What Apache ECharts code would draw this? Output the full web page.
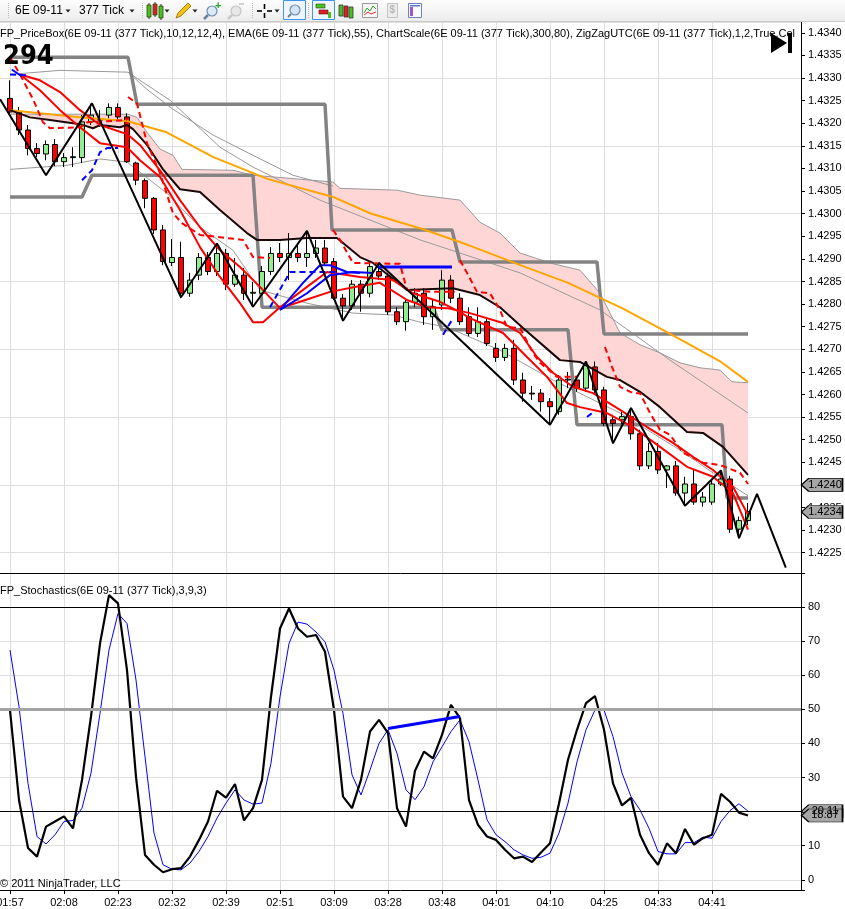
<!DOCTYPE html>
<html>
<head>
<meta charset="utf-8">
<title>6E 09-11 (377 Tick)</title>
<script src="https://cdn.jsdelivr.net/npm/echarts@6/dist/echarts.min.js"></script>
<style>
  html, body { margin: 0; padding: 0; background: #fff; }
  #chartmain { width: 845px; height: 909px; }
</style>
</head>
<body>
<div id="chartmain"></div>
<script>
// time labels, one every 6 bars
var tickLabels = ['01:57', '02:08', '02:23', '02:32', '02:39', '02:51', '03:09', '03:28', '03:48', '04:01', '04:10', '04:25', '04:33', '04:41'];

// 377 tick bars
var opens = [1.43255, 1.43225, 1.43185, 1.43144, 1.43132, 1.43153, 1.43115, 1.43124, 1.43124, 1.43203,
  1.43209, 1.43218, 1.43235, 1.43214, 1.43112, 1.43073, 1.43034, 1.42964, 1.42892, 1.42903,
  1.42824, 1.42864, 1.42903, 1.42872, 1.42912, 1.42844, 1.42864, 1.42824, 1.42824, 1.42872,
  1.42912, 1.42903, 1.42912, 1.42903, 1.42912, 1.42924, 1.42894, 1.42813, 1.42796, 1.42844,
  1.42824, 1.42872, 1.42862, 1.42783, 1.42761, 1.42804, 1.42824, 1.42772, 1.42798, 1.42853,
  1.42813, 1.42772, 1.42735, 1.42761, 1.42702, 1.42682, 1.42702, 1.42632, 1.42603, 1.42603,
  1.42584, 1.42562, 1.42632, 1.42632, 1.42614, 1.42661, 1.42610, 1.42544, 1.42544, 1.42551,
  1.42513, 1.42442, 1.42474, 1.42433, 1.42442, 1.42382, 1.42402, 1.42362, 1.42362, 1.42402,
  1.42413, 1.42302, 1.42321];
var highs = [1.43295, 1.43236, 1.43196, 1.43156, 1.43162, 1.43165, 1.43134, 1.43147, 1.43218, 1.43243,
  1.43229, 1.43244, 1.43244, 1.43222, 1.43115, 1.43078, 1.43037, 1.42975, 1.42944, 1.42938,
  1.42869, 1.42913, 1.42915, 1.42933, 1.42922, 1.42902, 1.42880, 1.42849, 1.42884, 1.42926,
  1.42935, 1.42957, 1.42935, 1.42962, 1.42942, 1.42942, 1.42902, 1.42822, 1.42853, 1.42853,
  1.42893, 1.42891, 1.42869, 1.42793, 1.42809, 1.42835, 1.42835, 1.42809, 1.42875, 1.42864,
  1.42824, 1.42793, 1.42793, 1.42767, 1.42714, 1.42712, 1.42721, 1.42648, 1.42619, 1.42612,
  1.42592, 1.42643, 1.42650, 1.42641, 1.42673, 1.42673, 1.42617, 1.42555, 1.42562, 1.42570,
  1.42522, 1.42493, 1.42493, 1.42444, 1.42453, 1.42418, 1.42433, 1.42384, 1.42411, 1.42432,
  1.42420, 1.42330, 1.42360];
var lows = [1.43218, 1.43174, 1.43129, 1.43125, 1.43118, 1.43105, 1.43103, 1.43103, 1.43112, 1.43196,
  1.43192, 1.43211, 1.43207, 1.43112, 1.43063, 1.43012, 1.42955, 1.42886, 1.42884, 1.42813,
  1.42816, 1.42853, 1.42864, 1.42862, 1.42831, 1.42838, 1.42809, 1.42796, 1.42818, 1.42864,
  1.42893, 1.42853, 1.42893, 1.42882, 1.42902, 1.42886, 1.42809, 1.42763, 1.42787, 1.42783,
  1.42815, 1.42853, 1.42776, 1.42754, 1.42741, 1.42793, 1.42754, 1.42743, 1.42787, 1.42802,
  1.42754, 1.42729, 1.42727, 1.42707, 1.42672, 1.42674, 1.42621, 1.42584, 1.42588, 1.42562,
  1.42533, 1.42555, 1.42614, 1.42606, 1.42606, 1.42603, 1.42530, 1.42492, 1.42535, 1.42500,
  1.42433, 1.42435, 1.42424, 1.42393, 1.42376, 1.42354, 1.42356, 1.42352, 1.42356, 1.42398,
  1.42294, 1.42282, 1.42311];
var closes = [1.43225, 1.43185, 1.43144, 1.43133, 1.43153, 1.43115, 1.43124, 1.43126, 1.43203, 1.43218,
  1.43207, 1.43235, 1.43214, 1.43115, 1.43074, 1.43034, 1.42964, 1.42894, 1.42903, 1.42824,
  1.42853, 1.42903, 1.42872, 1.42912, 1.42844, 1.42864, 1.42824, 1.42826, 1.42872, 1.42912,
  1.42903, 1.42912, 1.42903, 1.42912, 1.42924, 1.42891, 1.42813, 1.42796, 1.42844, 1.42824,
  1.42883, 1.42862, 1.42783, 1.42761, 1.42804, 1.42824, 1.42772, 1.42794, 1.42853, 1.42813,
  1.42761, 1.42735, 1.42761, 1.42713, 1.42682, 1.42702, 1.42632, 1.42603, 1.42601, 1.42584,
  1.42573, 1.42632, 1.42634, 1.42614, 1.42665, 1.42610, 1.42536, 1.42536, 1.42551, 1.42513,
  1.42442, 1.42474, 1.42433, 1.42442, 1.42382, 1.42402, 1.42362, 1.42373, 1.42402, 1.42413,
  1.42302, 1.42321, 1.42341];

// indicator lines as [bar, price]
var ema55 = [[0, 1.43229], [8, 1.43213], [13, 1.43205], [17.4, 1.43180], [22.6, 1.43125], [28.6, 1.43077],
  [35.9, 1.43037], [40, 1.43001], [46, 1.42965], [51, 1.42930], [57, 1.42884], [62, 1.42847],
  [68, 1.42791], [73, 1.42738], [79, 1.42672], [82, 1.42628]];
var cloudTop = [[0, 1.43220], [13.11, 1.43220], [14.11, 1.43213], [15.22, 1.43180], [16.67, 1.43143],
  [18.11, 1.43129], [19.11, 1.43098], [24.78, 1.43096], [27, 1.43085], [35.89, 1.43070], [36.67, 1.43056],
  [43, 1.43052], [45.56, 1.43041], [50, 1.43030], [52.22, 1.42981], [54.44, 1.42957], [56.67, 1.42913],
  [60, 1.42891], [63.33, 1.42875], [65.56, 1.42824], [67.78, 1.42736], [70, 1.42710], [72.22, 1.42692],
  [74.44, 1.42670], [76.67, 1.42659], [78.89, 1.42654], [80.22, 1.42628], [82, 1.42626]];
var cloudBottom = [[0, 1.43229], [2.22, 1.43213], [4.44, 1.43207], [7.78, 1.43198], [9.22, 1.43189],
  [10, 1.43196], [12.22, 1.43191], [13, 1.43196], [13.67, 1.43187], [15.22, 1.43152], [17, 1.43098],
  [18.89, 1.43054], [21.11, 1.43048], [23.33, 1.43008], [26.33, 1.42957], [27.44, 1.42942], [30, 1.42942],
  [33, 1.42946], [36.33, 1.42946], [38.89, 1.42904], [40.33, 1.42891], [44.11, 1.42831], [49.22, 1.42835],
  [52.22, 1.42820], [54.44, 1.42793], [57, 1.42747], [61.11, 1.42676], [63.33, 1.42672], [66.33, 1.42639],
  [67.78, 1.42632], [70, 1.42606], [72.22, 1.42572], [75.22, 1.42517], [77, 1.42515], [79.22, 1.42484],
  [82, 1.42422]];
var envUpper = [[0, 1.43308], [5.56, 1.43317], [13.11, 1.43313], [15.22, 1.43275], [18.11, 1.43231],
  [22.56, 1.43174], [27, 1.43129], [31.44, 1.43085], [35.89, 1.43061]];
var envMid = [[13.11, 1.43313], [14.44, 1.43295], [17.78, 1.43251], [23.33, 1.43147], [27, 1.43103],
  [34.44, 1.43030], [45.56, 1.42942], [56.67, 1.42869], [65.56, 1.42787], [73.33, 1.42676], [82, 1.42559]];
var envLower = [[0, 1.43098], [6.33, 1.43107], [10, 1.43121], [13, 1.43114], [17.44, 1.43045],
  [21.11, 1.42970], [24.78, 1.42919], [27.78, 1.42831], [33, 1.42802], [38.11, 1.42780], [42.56, 1.42776],
  [45.56, 1.42760], [48.56, 1.42749], [54.44, 1.42698], [60.33, 1.42632], [67.78, 1.42559], [74.44, 1.42477],
  [78.89, 1.42416], [82, 1.42376]];
var redFast = [[1.11, 1.43308], [3.33, 1.43273], [5.56, 1.43229], [7.78, 1.43191], [10, 1.43156],
  [13, 1.43147], [14.44, 1.43118], [16.67, 1.43081], [18.89, 1.43008], [21.11, 1.42926], [23.33, 1.42860],
  [25.56, 1.42802], [27, 1.42760], [28.11, 1.42760], [30, 1.42793], [33, 1.42838], [35.22, 1.42871],
  [38.89, 1.42860], [42.56, 1.42853], [44.78, 1.42824], [47.78, 1.42805], [50, 1.42782], [51.11, 1.42769],
  [54.78, 1.42736], [57.44, 1.42683], [59.67, 1.42639], [61.89, 1.42581], [63.33, 1.42572], [66.33, 1.42559],
  [69.22, 1.42528], [72.22, 1.42484], [75.22, 1.42440], [78.11, 1.42418], [80.33, 1.42382], [82, 1.42301]];
var redSlow = [[1.11, 1.43308], [3.33, 1.43295], [5.56, 1.43269], [7.78, 1.43229], [10, 1.43196],
  [13, 1.43176], [14.44, 1.43152], [16.67, 1.43096], [18.89, 1.43030], [21.11, 1.42970], [23.33, 1.42919],
  [25.56, 1.42882], [27.78, 1.42838], [30, 1.42791], [32.22, 1.42805], [35.56, 1.42827], [38.89, 1.42840],
  [41.11, 1.42847], [44.11, 1.42809], [46.33, 1.42793], [48.56, 1.42791], [51.11, 1.42780], [54.78, 1.42758],
  [56.67, 1.42736], [58.56, 1.42683], [60.33, 1.42648], [62.56, 1.42617], [64.78, 1.42603], [67.78, 1.42566],
  [70.78, 1.42528], [73.67, 1.42493], [75.89, 1.42462], [78.11, 1.42433], [80.33, 1.42396], [82, 1.42334]];
var redDashSegs = [
  [[0, 1.43346], [1.11, 1.43308], [2.56, 1.43253], [3.67, 1.43202], [4.44, 1.43189], [7.78, 1.43191], [8.56, 1.43202], [13, 1.43207]],
  [[13.11, 1.43258], [14.11, 1.43244], [15.22, 1.43156], [16.67, 1.43090], [18.11, 1.43001], [19.11, 1.42979], [21.11, 1.42953], [25.89, 1.42942], [27, 1.42904], [28.89, 1.42902]],
  [[35.89, 1.42964], [36.67, 1.42942], [38.11, 1.42891], [43.33, 1.42889], [44.11, 1.42831], [47, 1.42827], [49.44, 1.42827]],
  [[50, 1.42897], [50.78, 1.42869], [51.89, 1.42827], [53.33, 1.42824], [54.44, 1.42787], [55.22, 1.42749], [56.67, 1.42747], [58.11, 1.42692], [58.89, 1.42670], [60.78, 1.42639], [63, 1.42639]],
  [[66.11, 1.42705], [66.89, 1.42661], [67.78, 1.42617], [69.22, 1.42603], [70, 1.42603], [71.11, 1.42559], [72.22, 1.42522], [73.33, 1.42511], [74.78, 1.42471], [77, 1.42449], [78.89, 1.42444], [81.11, 1.42427], [82, 1.42402]]
];
var blueDashSegs = [
  [[0, 1.43308], [1.89, 1.43306]],
  [[8, 1.43074], [9.11, 1.43096], [10, 1.43136], [10.78, 1.43145], [12, 1.43145]],
  [[28.89, 1.42793], [31.11, 1.42871], [36.33, 1.42871]],
  [[48.11, 1.42732], [49.11, 1.42765]],
  [[64.11, 1.42550], [65, 1.42564]]
];
var blueSolidSegs = [
  [[0.2, 1.43319], [1.3, 1.43304]],
  [[30, 1.42787], [32.56, 1.42847], [34.44, 1.42886], [35.56, 1.42886], [37.44, 1.42871], [38.89, 1.42869]],
  [[30, 1.42787], [33, 1.42824], [35.56, 1.42864], [38.11, 1.42871], [40.33, 1.42869]]
];
var blueLevel = [[40.89, 1.42882], [49.11, 1.42882]];
var boxUpper = [[0, 1.43346], [13.11, 1.43346], [14.11, 1.43242], [35, 1.43242], [35.78, 1.42964],
  [49.11, 1.42964], [50, 1.42893], [65.22, 1.42893], [66, 1.42734], [82, 1.42734]];
var boxLower = [[0, 1.43037], [8, 1.43037], [9.11, 1.43085], [27, 1.43085], [28, 1.42793], [47, 1.42793],
  [48, 1.42743], [62, 1.42743], [63, 1.42533], [79.11, 1.42533], [79.67, 1.42371], [82, 1.42371]];
var zigzag = [[-1.1, 1.43253], [4, 1.43085], [9.11, 1.43244], [19, 1.42815], [23, 1.42934], [27, 1.42794],
  [33, 1.42962], [37, 1.42763], [41, 1.42891], [60, 1.42533], [64, 1.42673], [67, 1.42492], [69, 1.42570],
  [75, 1.42354], [79, 1.42432], [81, 1.42282], [83, 1.42380], [86.2, 1.42217]];
var priceTags = [1.4240, 1.4234];

// FP_Stochastics(3,9,3)
var stochK = [49.8, 23.4, 9.3, 6.8, 15.6, 17.1, 18.6, 15.1, 29.3, 47.9,
  69.3, 83.5, 81.1, 61.5, 30.2, 7.3, 4.4, 2.2, 3.1, 3.4,
  6.8, 11.7, 17.1, 26.1, 24.1, 28.1, 17.4, 21.0, 29.3, 53.7,
  73.7, 79.6, 73.7, 71.3, 71.8, 66.9, 49.8, 24.4, 21.0, 29.3,
  43.5, 46.9, 43.0, 21.0, 15.6, 32.0, 37.6, 35.6, 42.5, 51.3,
  47.4, 23.4, 16.1, 12.7, 11.7, 8.8, 6.3, 6.8, 5.2, 8.0,
  10.7, 22.4, 35.2, 44.0, 51.8, 53.9, 44.0, 28.3, 21.8, 24.0,
  13.2, 7.8, 4.4, 10.7, 7.8, 14.9, 10.3, 12.2, 13.2, 25.2,
  22.9, 19.7, 18.87];
var stochD = [67.4, 50.8, 28.3, 12.7, 10.5, 13.2, 17.1, 17.4, 21.0, 31.3,
  48.8, 67.4, 78.1, 75.2, 58.6, 36.1, 13.7, 4.4, 3.1, 2.9,
  4.9, 8.3, 12.7, 18.1, 22.5, 26.4, 23.4, 22.2, 22.5, 34.2,
  53.7, 69.3, 75.6, 75.0, 72.7, 69.8, 61.5, 48.8, 30.8, 24.9,
  32.2, 40.0, 44.0, 37.1, 26.4, 23.5, 27.3, 34.6, 39.0, 43.5,
  46.9, 40.5, 29.3, 17.6, 13.2, 11.2, 8.8, 7.3, 6.3, 6.6,
  7.8, 13.7, 22.5, 34.6, 44.0, 49.8, 49.8, 42.0, 31.3, 24.4,
  20.5, 15.1, 8.3, 7.6, 7.6, 10.9, 10.9, 12.5, 12.2, 17.1,
  20.3, 22.3, 20.11];
var stochDiv = [[42, 44.4], [50, 47.9]];
var stochLevels = [80, 20];
var stochMid = 50;
var stochTags = [20.11, 18.87];

var FONT = "'Liberation Sans', Arial, sans-serif";
// 9 px per bar, bar 0 at x=10, plot ends at x=801; axis starts 6 bars left of the page
var X_MIN = -6, X_MAX = -6 + 845 / 9;
var tickBars = tickLabels.map(function (t, k) { return k * 6; });

var candles = opens.map(function (o, i) { return [i, o, closes[i], lows[i], highs[i]]; });
var kData = stochK.map(function (v, i) { return [i, v]; });
var dData = stochD.map(function (v, i) { return [i, v]; });

function line(data, color, width, z, extra) {
	var s = {
		type: 'line', xAxisIndex: 0, yAxisIndex: 0, data: data,
		symbol: 'none', showSymbol: false, silent: true, z: z,
		lineStyle: { color: color, width: width }
	};
	if (extra) {
		for (var k in extra) s.lineStyle[k] = extra[k];
	}
	return s;
}

function tag(xi, yi, values, digits) {
	return {
		type: 'scatter', xAxisIndex: xi, yAxisIndex: yi, clip: false, silent: true, z: 20,
		symbol: 'path://M0,6L7,0L40,0L40,12L7,12Z', symbolSize: [41, 13], symbolOffset: [21, 0],
		itemStyle: { color: '#a6a6a6', borderColor: '#000', borderWidth: 1, opacity: 1 },
		label: {
			show: true, position: 'inside', offset: [3, 0], color: '#000', fontSize: 11, fontFamily: FONT,
			formatter: function (p) { return p.value[1].toFixed(digits); }
		},
		data: values.map(function (v) { return [X_MAX, v]; })
	};
}

var series = [];
// pink cloud between its top edge and the black line
series.push({
	type: 'custom', xAxisIndex: 0, yAxisIndex: 0, z: 1, silent: true,
	data: [[0, cloudTop[0][1]]],
	renderItem: function (params, api) {
		var pts = [];
		cloudTop.forEach(function (p) { pts.push(api.coord(p)); });
		cloudBottom.slice().reverse().forEach(function (p) { pts.push(api.coord(p)); });
		return { type: 'polygon', shape: { points: pts }, style: { fill: '#ffd6d6' } };
	}
});
series.push(line(cloudTop, '#9a9a9a', 1, 2));
series.push(line(envUpper, '#9a9a9a', 1, 2));
series.push(line(envMid, '#9a9a9a', 1, 2));
series.push(line(envLower, '#9a9a9a', 1, 2));
series.push(line(boxUpper, '#838383', 3.5, 2));
series.push(line(boxLower, '#838383', 3.5, 2));
series.push({
	type: 'candlestick', xAxisIndex: 0, yAxisIndex: 0, data: candles, z: 3, silent: true,
	encode: { x: 0, y: [1, 2, 3, 4] }, barWidth: 6,
	itemStyle: { color: '#90ee90', color0: '#ff0000', borderColor: '#000', borderColor0: '#000', borderColorDoji: '#000', borderWidth: 1 }
});
series.push(line(ema55, '#ffa500', 2, 4));
series.push(line(cloudBottom, '#1a0808', 2, 4));
series.push(line(redSlow, '#ff0000', 2, 5));
series.push(line(redFast, '#ff0000', 2, 5));
redDashSegs.forEach(function (seg) { series.push(line(seg, '#ff0000', 2, 5, { type: [6, 4] })); });
blueSolidSegs.forEach(function (seg) { series.push(line(seg, '#0000ff', 2, 5)); });
blueDashSegs.forEach(function (seg) { series.push(line(seg, '#0000ff', 2, 5, { type: [6, 4] })); });
series.push(line(blueLevel, '#0000ff', 3, 5));
series.push(line(zigzag, '#000000', 2, 6));
series.push(tag(0, 0, priceTags, 4));

// stochastics panel
var levelLines = stochLevels.map(function (v) {
	return { yAxis: v, lineStyle: { color: '#000', width: 1, type: 'solid' } };
});
levelLines.push({ yAxis: stochMid, lineStyle: { color: '#a4a4a4', width: 3, type: 'solid' } });
series.push({
	type: 'line', xAxisIndex: 1, yAxisIndex: 1, data: dData, symbol: 'none', silent: true, z: 3,
	lineStyle: { color: '#0000ff', width: 1 },
	markLine: { silent: true, symbol: 'none', label: { show: false }, animation: false, data: levelLines }
});
series.push({
	type: 'line', xAxisIndex: 1, yAxisIndex: 1, data: kData, symbol: 'none', silent: true, z: 4,
	lineStyle: { color: '#000', width: 2.2 }
});
series.push({
	type: 'line', xAxisIndex: 1, yAxisIndex: 1, data: stochDiv, symbol: 'none', silent: true, z: 5,
	lineStyle: { color: '#0000ff', width: 3 }
});
series.push(tag(1, 1, stochTags, 2));

function xAxisFor(grid, showLabels) {
	return {
		type: 'value', gridIndex: grid, min: X_MIN, max: X_MAX, interval: 6,
		axisLine: { show: false, onZero: false },
		axisTick: { show: showLabels, length: 4, customValues: tickBars, lineStyle: { color: '#000' } },
		axisLabel: {
			show: showLabels, margin: 7, color: '#000', fontSize: 11, fontFamily: FONT, customValues: tickBars,
			formatter: function (v) {
				var k = Math.round(v / 6);
				if (v < 0 || Math.abs(v - k * 6) > 1e-6 || k >= tickLabels.length) return '';
				return tickLabels[k];
			}
		},
		splitLine: { show: true, lineStyle: { color: '#dedede', width: 1 } }
	};
}

// toolbar and text overlays
var gfx = [];
gfx.push({ type: 'rect', shape: { x: 0, y: 0, width: 845, height: 21 }, z: 50,
	style: { fill: new echarts.graphic.LinearGradient(0, 0, 0, 1, [{ offset: 0, color: '#fdfdfd' }, { offset: 1, color: '#ececec' }]) } });
gfx.push({ type: 'line', shape: { x1: 0, y1: 21.5, x2: 845, y2: 21.5 }, z: 51, style: { stroke: '#c8c8c8', lineWidth: 1 } });
[8, 142, 252, 308].forEach(function (x) {
	gfx.push({ type: 'line', shape: { x1: x + 0.5, y1: 3, x2: x + 0.5, y2: 19 }, z: 51, style: { stroke: '#b8b8b8', lineDash: [1, 1] } });
});
gfx.push({ type: 'text', x: 15, y: 11, z: 52, style: { text: '6E 09-11', font: '12px ' + FONT, fill: '#000', verticalAlign: 'middle' } });
gfx.push({ type: 'text', x: 79, y: 11, z: 52, style: { text: '377 Tick', font: '12px ' + FONT, fill: '#000', verticalAlign: 'middle' } });
[68, 132, 167, 195, 277].forEach(function (x) {
	gfx.push({ type: 'polygon', shape: { points: [[x - 2.5, 9.5], [x + 2.5, 9.5], [x, 12.5]] }, z: 52, style: { fill: '#222' } });
});
// chart style icon
[[147, 5, 12, '#48c020'], [153, 4, 11, '#e02020'], [159, 6, 12, '#48c020']].forEach(function (c) {
	gfx.push({ type: 'line', shape: { x1: c[0] + 2, y1: c[1] - 2, x2: c[0] + 2, y2: c[1] + c[2] + 2 }, z: 52, style: { stroke: '#333' } });
	gfx.push({ type: 'rect', shape: { x: c[0], y: c[1], width: 4, height: c[2] }, z: 53, style: { fill: c[3], stroke: '#2c4a10', lineWidth: 0.8 } });
});
// pencil
gfx.push({ type: 'polygon', shape: { points: [[176, 18], [178, 13], [188, 3], [191, 6], [181, 16]] }, z: 52, style: { fill: '#f3c20c', stroke: '#8a6a00', lineWidth: 0.8 } });
// zoom in / zoom out
gfx.push({ type: 'line', shape: { x1: 208, y1: 15, x2: 204, y2: 19 }, z: 52, style: { stroke: '#6a7f96', lineWidth: 2.5 } });
gfx.push({ type: 'circle', shape: { cx: 212, cy: 11, r: 5 }, z: 53, style: { fill: '#dce9f6', stroke: '#6f8fb0', lineWidth: 1.2 } });
gfx.push({ type: 'text', x: 215, y: 0, z: 53, style: { text: '+', font: 'bold 11px ' + FONT, fill: '#1faa1f' } });
gfx.push({ type: 'line', shape: { x1: 232, y1: 15, x2: 228, y2: 19 }, z: 52, style: { stroke: '#c9c9c9', lineWidth: 2.5 } });
gfx.push({ type: 'circle', shape: { cx: 236, cy: 11, r: 5 }, z: 53, style: { fill: '#e8e8e8', stroke: '#c4c4c4', lineWidth: 1.2 } });
gfx.push({ type: 'line', shape: { x1: 239, y1: 4, x2: 244, y2: 4 }, z: 53, style: { stroke: '#c4c4c4', lineWidth: 1.5 } });
// crosshair
[[257, 11, 262, 11], [267, 11, 272, 11], [264.5, 4, 264.5, 9], [264.5, 13, 264.5, 18]].forEach(function (l) {
	gfx.push({ type: 'line', shape: { x1: l[0], y1: l[1], x2: l[2], y2: l[3] }, z: 52, style: { stroke: '#000', lineWidth: 1.6 } });
});
// highlighted buttons
gfx.push({ type: 'rect', shape: { x: 283.5, y: 0.5, width: 22, height: 19 }, z: 52, style: { fill: '#eef5fd', stroke: '#3d95f0', lineWidth: 1 } });
gfx.push({ type: 'line', shape: { x1: 291, y1: 14, x2: 288, y2: 17 }, z: 53, style: { stroke: '#6a7f96', lineWidth: 2 } });
gfx.push({ type: 'circle', shape: { cx: 295, cy: 10, r: 5 }, z: 53, style: { fill: '#d4e4f4', stroke: '#6f8fb0', lineWidth: 1.2 } });
gfx.push({ type: 'rect', shape: { x: 312.5, y: 0.5, width: 22, height: 19 }, z: 52, style: { fill: '#eef5fd', stroke: '#3d95f0', lineWidth: 1 } });
gfx.push({ type: 'rect', shape: { x: 316, y: 4, width: 9, height: 4 }, z: 53, style: { fill: '#48c020', stroke: '#2c4a10', lineWidth: 0.6 } });
gfx.push({ type: 'rect', shape: { x: 319, y: 10, width: 9, height: 4 }, z: 53, style: { fill: '#e02020', stroke: '#601010', lineWidth: 0.6 } });
gfx.push({ type: 'rect', shape: { x: 328, y: 12, width: 3, height: 6 }, z: 53, style: { fill: '#48c020' } });
[[339, '#48c020'], [344, '#e02020'], [349, '#48c020']].forEach(function (c, i) {
	gfx.push({ type: 'rect', shape: { x: c[0], y: 5 + i, width: 4, height: 11 }, z: 53, style: { fill: c[1], stroke: '#333', lineWidth: 0.8 } });
});
gfx.push({ type: 'rect', shape: { x: 362.5, y: 3.5, width: 15, height: 14 }, z: 52, style: { fill: '#f6f6f6', stroke: '#9a9a9a' } });
gfx.push({ type: 'polyline', shape: { points: [[364, 13], [367, 8], [370, 11], [373, 6], [376, 9]] }, z: 53, style: { stroke: '#2faa2f', fill: null } });
gfx.push({ type: 'polyline', shape: { points: [[364, 15], [368, 12], [371, 14], [376, 12]] }, z: 53, style: { stroke: '#e03030', fill: null } });
gfx.push({ type: 'rect', shape: { x: 387.5, y: 3.5, width: 10, height: 14 }, z: 52, style: { fill: '#ececec', stroke: '#c2c2c2' } });
gfx.push({ type: 'text', x: 389.5, y: 5, z: 53, style: { text: '$', font: 'bold 10px ' + FONT, fill: '#b8b8b8' } });
gfx.push({ type: 'rect', shape: { x: 408.5, y: 3.5, width: 13, height: 14 }, z: 52, style: { fill: '#fafafa', stroke: '#6f7fc0' } });
gfx.push({ type: 'rect', shape: { x: 410, y: 7, width: 3, height: 9 }, z: 53, style: { fill: '#9a5ad0' } });
gfx.push({ type: 'rect', shape: { x: 410, y: 5, width: 10, height: 1.5 }, z: 53, style: { fill: '#5a7ad0' } });
// panel frame lines of the stochastics pane
gfx.push({ type: 'line', shape: { x1: 0, y1: 573.5, x2: 801, y2: 573.5 }, z: 30, style: { stroke: '#000', lineWidth: 1 } });
gfx.push({ type: 'line', shape: { x1: 0, y1: 890.5, x2: 801, y2: 890.5 }, z: 30, style: { stroke: '#000', lineWidth: 1 } });
// panel captions
gfx.push({ type: 'text', x: 0, y: 34, z: 40, style: {
	text: 'FP_PriceBox(6E 09-11 (377 Tick),10,12,12,4), EMA(6E 09-11 (377 Tick),55), ChartScale(6E 09-11 (377 Tick),300,80), ZigZagUTC(6E 09-11 (377 Tick),1,2,True,Cold',
	font: '11px ' + FONT, fill: '#000', verticalAlign: 'middle', width: 800, overflow: 'truncate', ellipsis: '' } });
gfx.push({ type: 'text', x: 3, y: 57, z: 41, style: { text: '294', font: "bold 27px 'Liberation Sans Narrow', 'DejaVu Sans Condensed', sans-serif", fill: '#000', verticalAlign: 'middle' } });
gfx.push({ type: 'polygon', shape: { points: [[771, 33], [787, 43], [771, 53]] }, z: 41, style: { fill: '#000' } });
gfx.push({ type: 'rect', shape: { x: 788, y: 33, width: 4, height: 20 }, z: 41, style: { fill: '#000' } });
gfx.push({ type: 'text', x: 0, y: 591, z: 40, style: { text: 'FP_Stochastics(6E 09-11 (377 Tick),3,9,3)', font: '11px ' + FONT, fill: '#000', verticalAlign: 'middle' } });
gfx.push({ type: 'text', x: 0, y: 884, z: 40, style: { text: '\u00a9 2011 NinjaTrader, LLC', font: '11px ' + FONT, fill: '#000', verticalAlign: 'middle' } });

var option = {
	animation: false,
	backgroundColor: '#ffffff',
	grid: [
		{ left: -44, right: 44, top: 22, height: 553.3, outerBoundsMode: 'none', containLabel: false },
		{ left: -44, right: 44, top: 573, height: 317, outerBoundsMode: 'none', containLabel: false }
	],
	xAxis: [xAxisFor(0, false), xAxisFor(1, true)],
	yAxis: [
		{
			type: 'value', gridIndex: 0, position: 'right', min: 1.4220, max: 1.43424, interval: 0.0005, scale: true,
			axisLine: { show: true, onZero: false, lineStyle: { color: '#000' } },
			axisTick: { show: true, length: 4, lineStyle: { color: '#000' } },
			axisLabel: { margin: 7, color: '#000', fontSize: 11, fontFamily: FONT, showMinLabel: false, showMaxLabel: false,
				formatter: function (v) { return v.toFixed(4); } },
			splitLine: { show: true, lineStyle: { color: ['rgba(0,0,0,0)', '#dedede', 'rgba(0,0,0,0)'], width: 1 } }
		},
		{
			type: 'value', gridIndex: 1, position: 'right', min: -3, max: 90, splitNumber: 9, minInterval: 10, maxInterval: 10,
			axisLine: { show: true, onZero: false, lineStyle: { color: '#000' } },
			axisTick: { show: true, length: 4, lineStyle: { color: '#000' } },
			axisLabel: { margin: 7, color: '#000', fontSize: 11, fontFamily: FONT,
				formatter: function (v) { return (v >= 0 && v <= 80 && Math.abs(v % 10) < 1e-6) ? String(v) : ''; } },
			splitLine: { show: true, lineStyle: { color: '#dedede', width: 1 } }
		}
	],
	graphic: gfx,
	series: series
};

var myChart = echarts.init(document.getElementById('chartmain'));
myChart.setOption(option);
</script>
</body>
</html>
